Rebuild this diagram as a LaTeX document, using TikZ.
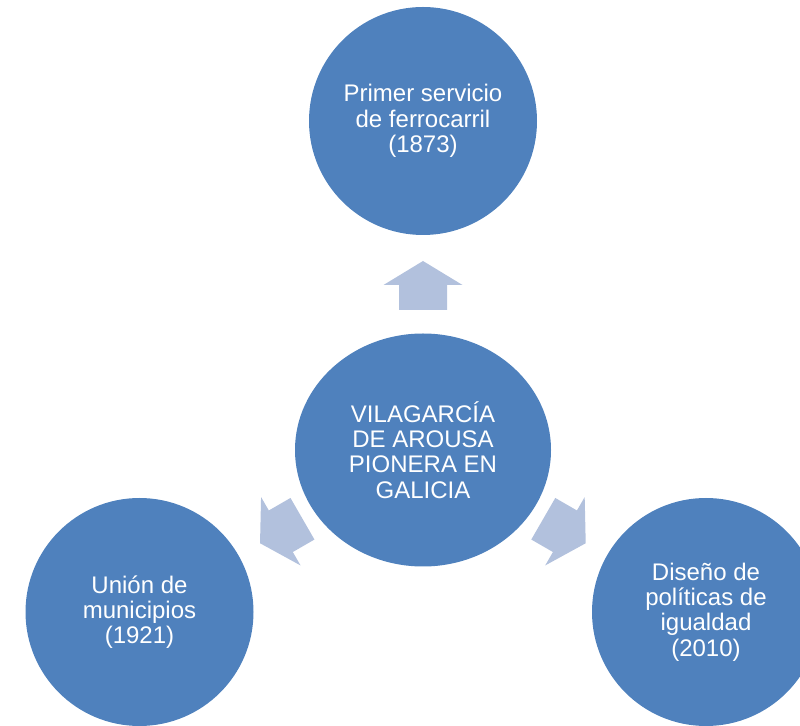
\documentclass[tikz,border=0pt]{standalone}
\usepackage{fontspec}
\setmainfont{Liberation Sans}
\usetikzlibrary{shapes.geometric,calc}
\definecolor{bubblefill}{RGB}{79,129,189}
\definecolor{arrowfill}{RGB}{178,193,221}
\tikzset{
  bubble/.style={circle, fill=bubblefill, text=white, inner sep=0pt,
    minimum size=171pt, align=center, font=\fontsize{18}{19}\selectfont},
  hub/.style={bubble, ellipse, minimum width=192pt, minimum height=174.75pt},
  blockarrow/.pic={
    \fill[arrowfill] (-24.5,-24) -- (0.5,-24) -- (0.5,-39.5) -- (24.5,0)
      -- (0.5,39.5) -- (0.5,24) -- (-24.5,24) -- cycle;
  }
}

\begin{document}
\begin{tikzpicture}[x=0.75pt, y=0.75pt]
  \useasboundingbox (0,0) rectangle (800,725);
  \clip (0,0) rectangle (800,725);
  \node[hub] (center) at (423,275) {VILAGARC\'IA\\DE AROUSA\\PIONERA EN\\GALICIA};
  \node[bubble] (rail) at (423,604) {Primer servicio\\de ferrocarril\\(1873)};
  \node[bubble] (union) at (139.5,113) {Uni\'on de\\municipios\\(1921)};
  \node[bubble] (equal) at (706,113) {Dise\~no de\\pol\'iticas de\\igualdad\\(2010)};
  % arrows out of the hub
  \pic[rotate=90] at ($(center)!0.5!(rail)$) {blockarrow};
  \pic[rotate=210] at ($(center)!0.5!(union)$) {blockarrow};
  \pic[rotate=330] at ($(center)!0.5!(equal)$) {blockarrow};
\end{tikzpicture}
\end{document}
